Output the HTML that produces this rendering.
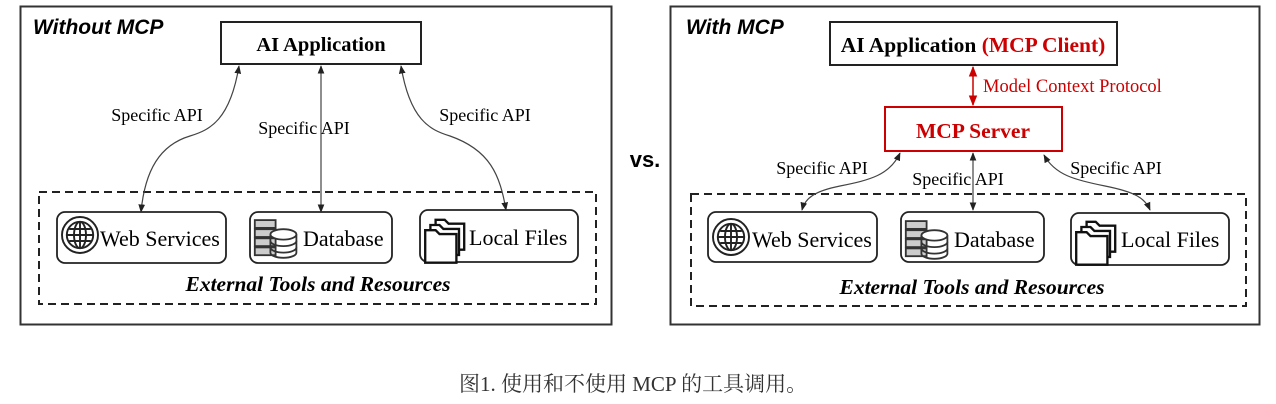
<!DOCTYPE html>
<html><head><meta charset="utf-8"><style>
body{margin:0;background:#fff;width:1276px;height:404px;overflow:hidden;position:relative}
.cap{position:absolute;left:459px;top:368px;font:21px "Liberation Serif","Noto Serif CJK SC",serif;color:#333;white-space:nowrap}
</style></head><body>
<svg width="1276" height="360" style="position:absolute;left:0;top:0" font-family="Liberation Serif, serif">
<defs>
<marker id="a" viewBox="0 0 10 10" refX="9" refY="5" markerWidth="7" markerHeight="7" orient="auto-start-reverse"><path d="M0,1 L10,5 L0,9 z" fill="#222"/></marker>
<marker id="r" viewBox="0 0 10 10" refX="9" refY="5" markerWidth="7" markerHeight="7" orient="auto-start-reverse"><path d="M0,1 L10,5 L0,9 z" fill="#c00"/></marker>
<g id="globe" fill="none" stroke="#222" stroke-width="1.6"><circle cx="0" cy="0" r="15"/><circle cx="0" cy="0" r="11"/><ellipse cx="0" cy="0" rx="5" ry="11"/><line x1="-11" y1="0" x2="11" y2="0"/><line x1="0" y1="-11" x2="0" y2="11"/><line x1="-9" y1="-5" x2="9" y2="-5"/><line x1="-9" y1="5" x2="9" y2="5"/></g>
<g id="db" fill="none" stroke="#333" stroke-width="1.4"><rect x="-14" y="-13" width="16" height="6" fill="#ccc"/><rect x="-14" y="-6" width="16" height="6" fill="#ccc"/><rect x="-14" y="1" width="16" height="6" fill="#ccc"/><rect x="-14" y="8" width="16" height="6" fill="#ccc"/><ellipse cx="8" cy="-2" rx="10" ry="4" fill="#fff"/><path d="M-2,-2 v14 a10,4 0 0 0 20,0 v-14"/><path d="M-2,3 a10,4 0 0 0 20,0 M-2,8 a10,4 0 0 0 20,0" /></g>
<g id="fold" fill="#fff" stroke="#111" stroke-width="1.8"><path d="M-8,-14 h7 l3,3 h12 v20 h-22 z"/><path d="M-12,-10 h7 l3,3 h12 v20 h-22 z"/><path d="M-16,-6 h8 l3,3 h13 v22 h-24 z"/></g>
</defs>
<!-- left panel -->
<rect x="20.5" y="6.5" width="591" height="318" fill="none" stroke="#333" stroke-width="2"/>
<text x="33" y="34" font-family="Liberation Sans, sans-serif" font-weight="bold" font-style="italic" font-size="21">Without MCP</text>
<rect x="221" y="22" width="200" height="42" fill="#fff" stroke="#222" stroke-width="2"/>
<text x="321" y="51" text-anchor="middle" font-weight="bold" font-size="20.5">AI Application</text>
<rect x="39" y="192" width="557" height="112" fill="none" stroke="#222" stroke-width="2" stroke-dasharray="8,5"/>
<rect x="57" y="212" width="169" height="51" rx="8" fill="#fff" stroke="#222" stroke-width="1.8"/>
<rect x="250" y="212" width="142" height="51" rx="8" fill="#fff" stroke="#222" stroke-width="1.8"/>
<rect x="420" y="210" width="158" height="52" rx="8" fill="#fff" stroke="#222" stroke-width="1.8"/>
<use href="#globe" transform="translate(80,235) scale(1.2)"/><use href="#db" transform="translate(273,237) scale(1.3)"/><use href="#fold" transform="translate(446,238) scale(1.3)"/>
<text x="100" y="246" font-size="22">Web Services</text>
<text x="303" y="246" font-size="22">Database</text>
<text x="469" y="245" font-size="22">Local Files</text>
<text x="318" y="291" text-anchor="middle" font-weight="bold" font-style="italic" font-size="21.5">External Tools and Resources</text>
<path d="M239,66 C230,120 210,130 190,136 C160,145 145,170 141,212" fill="none" stroke="#444" stroke-width="1.2" marker-start="url(#a)" marker-end="url(#a)"/>
<line x1="321" y1="66" x2="321" y2="212" stroke="#444" stroke-width="1.2" marker-start="url(#a)" marker-end="url(#a)"/>
<path d="M401,66 C410,120 430,130 450,136 C490,150 500,175 506,210" fill="none" stroke="#444" stroke-width="1.2" marker-start="url(#a)" marker-end="url(#a)"/>
<text x="157" y="121" text-anchor="middle" font-size="18">Specific API</text>
<text x="304" y="134" text-anchor="middle" font-size="18">Specific API</text>
<text x="485" y="121" text-anchor="middle" font-size="18">Specific API</text>
<text x="645" y="167" text-anchor="middle" font-family="Liberation Sans, sans-serif" font-weight="bold" font-size="22">vs.</text>
<!-- right panel -->
<rect x="670.5" y="6.5" width="589" height="318" fill="none" stroke="#333" stroke-width="2"/>
<text x="686" y="34" font-family="Liberation Sans, sans-serif" font-weight="bold" font-style="italic" font-size="21">With MCP</text>
<rect x="830" y="22" width="287" height="43" fill="#fff" stroke="#222" stroke-width="2"/>
<text x="973" y="52" text-anchor="middle" font-weight="bold" font-size="21.5">AI Application <tspan fill="#c00">(MCP Client)</tspan></text>
<line x1="973" y1="67" x2="973" y2="105" stroke="#c00" stroke-width="1.5" marker-start="url(#r)" marker-end="url(#r)"/>
<text x="983" y="92" fill="#c00" font-size="18.5">Model Context Protocol</text>
<rect x="885" y="107" width="177" height="44" fill="#fff" stroke="#c00" stroke-width="2"/>
<text x="973" y="138" text-anchor="middle" fill="#c00" font-weight="bold" font-size="21.5">MCP Server</text>
<rect x="691" y="194" width="555" height="112" fill="none" stroke="#222" stroke-width="2" stroke-dasharray="8,5"/>
<rect x="708" y="212" width="169" height="50" rx="8" fill="#fff" stroke="#222" stroke-width="1.8"/>
<rect x="901" y="212" width="143" height="50" rx="8" fill="#fff" stroke="#222" stroke-width="1.8"/>
<rect x="1071" y="213" width="158" height="52" rx="8" fill="#fff" stroke="#222" stroke-width="1.8"/>
<use href="#globe" transform="translate(731,237) scale(1.2)"/><use href="#db" transform="translate(924,238) scale(1.3)"/><use href="#fold" transform="translate(1097,240) scale(1.3)"/>
<text x="752" y="247" font-size="22">Web Services</text>
<text x="954" y="247" font-size="22">Database</text>
<text x="1121" y="247" font-size="22">Local Files</text>
<text x="972" y="294" text-anchor="middle" font-weight="bold" font-style="italic" font-size="21.5">External Tools and Resources</text>
<path d="M900,153 C890,175 870,180 840,186 C815,191 805,198 802,210" fill="none" stroke="#444" stroke-width="1.2" marker-start="url(#a)" marker-end="url(#a)"/>
<line x1="973" y1="153" x2="973" y2="210" stroke="#444" stroke-width="1.2" marker-start="url(#a)" marker-end="url(#a)"/>
<path d="M1044,155 C1055,175 1075,180 1105,186 C1135,192 1145,198 1150,210" fill="none" stroke="#444" stroke-width="1.2" marker-start="url(#a)" marker-end="url(#a)"/>
<text x="822" y="174" text-anchor="middle" font-size="18">Specific API</text>
<text x="958" y="185" text-anchor="middle" font-size="18">Specific API</text>
<text x="1116" y="174" text-anchor="middle" font-size="18">Specific API</text>
</svg>
<div class="cap">图1. 使用和不使用 MCP 的工具调用。</div>
</body></html>
